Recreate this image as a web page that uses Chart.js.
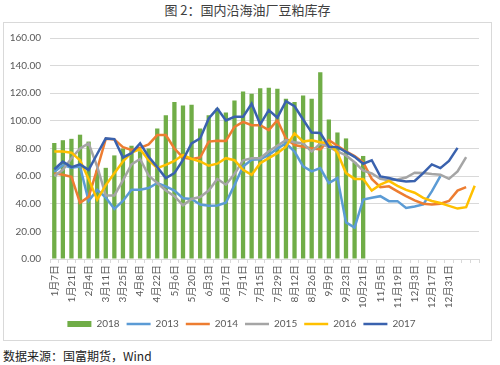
<!DOCTYPE html>
<html>
<head>
<meta charset="utf-8">
<script src="https://cdn.jsdelivr.net/npm/chart.js@4.4.1/dist/chart.umd.min.js"></script>
<style>
    body { margin: 0; width: 500px; height: 365px; background: #fff; position: relative; overflow: hidden; font-family: "Noto Sans CJK SC", sans-serif; }
    .title { position: absolute; top: 2px; left: 0; width: 495px; text-align: center; font-size: 13px; line-height: 16px; color: #404040; }
    .box { position: absolute; left: 3px; top: 22px; width: 487px; height: 317px; border: 1px solid #d9d9d9; }
    .source { position: absolute; left: 3px; top: 348px; font-size: 12px; line-height: 16px; color: #222; }
</style>
</head>
<body>
<div class="title">图&nbsp;2：国内沿海油厂豆粕库存</div>
<div class="box"><canvas id="stockChart" width="487" height="317"></canvas></div>
<div class="source">数据来源：国富期货，Wind</div>
<script>
// weekly categories, only every other one carries a label
var labels = ['1月7日', '', '1月21日', '', '2月4日', '', '3月11日', '', '3月25日', '', '4月8日', '', '4月22日', '', '5月6日', '',
    '5月20日', '', '6月3日', '', '6月17日', '', '7月1日', '', '7月15日', '', '7月29日', '', '8月12日', '', '8月26日', '',
    '9月9日', '', '9月23日', '', '10月21日', '', '11月5日', '', '11月19日', '', '12月3日', '', '12月17日', '', '12月31日', '', '', ''];

var yTicks = [0, 20, 40, 60, 80, 100, 120, 140, 160];

var data2018 = [84, 86, 87, 90, 85, 64, 66, 75, 80, 82, 78, 80, 94.5, 104, 113.6, 111.2, 111.7, 94.5, 104, 109, 106, 114.8,
    121.3, 119.6, 123.7, 123.9, 123.2, 116, 113.6, 118.4, 116, 135.2, 101, 91.6, 87.3, 70, 74.6];
var data2013 = [63, 68, 66, 67, 42, 50, 44.5, 36.2, 42, 50.2, 50.2, 51.4, 55, 52.6, 49.5, 44, 43.5, 39.5, 38.5, 38.8, 40.7,
    53.5, 67, 71.8, 72.2, 75.4, 80, 83.7, 77.8, 67, 63.4, 65.8, 55, 58.6, 26.5, 22.7, 43, 44.3, 45.5, 41.9, 41.9, 37, 38, 39.5, 49, 60];
var data2014 = [62, 61, 59.5, 40.7, 45, 65, 87, 86.6, 81, 79, 80.5, 83, 89.7, 89.7, 80, 73.5, 72.5, 73.5, 85, 85.6, 85.5,
    95.7, 99.3, 96.9, 96.9, 93.3, 100.5, 87.3, 82.5, 81.3, 80.1, 79.4, 86, 82, 78, 74.5, 70, 58, 52, 52.6, 49, 45.5, 42.5,
    40, 39.5, 40, 42, 49.5, 52];
var data2015 = [60, 64.6, 73, 80.1, 83.7, 67, 46, 46, 57, 68.5, 72.4, 60.4, 55, 49.6, 45.5, 38.9, 43.5, 44.9, 49.6, 58, 53.8,
    61.6, 71.5, 73, 73, 78, 82, 86, 84.5, 83.7, 77.8, 83.7, 81, 78, 75, 70, 64, 62, 58, 57, 57.5, 59, 62.5, 62.2, 61.5, 61,
    58, 63.4, 73.7];
var data2016 = [77.8, 77.8, 77, 71.5, 58, 43, 53.5, 62, 70.6, 77, 79.5, 71.5, 65.8, 68.2, 71, 75.4, 72.5, 70.6, 67.5, 69, 73,
    71.5, 64.6, 61, 69.4, 73, 76.6, 81.3, 90.9, 85, 86, 84.5, 84, 77, 62.2, 58, 58, 49.5, 53.8, 56.5, 53, 50, 48, 44.3, 42,
    40.5, 38.5, 36.5, 37.5, 53];
var data2017 = [65, 70.5, 66.5, 68.5, 64.5, 76, 87.3, 86.8, 73.5, 76.6, 83.7, 74, 66.5, 58.6, 62.2, 71.8, 83.7, 87.3, 101.7,
    108.9, 100.3, 102.9, 102.9, 112.4, 97.5, 107.8, 102.3, 114.2, 110.6, 101, 91.5, 91.2, 81.3, 81, 77.5, 74, 69, 71.5,
    59.8, 58.6, 57, 56.2, 56.5, 62.2, 68.5, 65.8, 71, 80.5];

Chart.defaults.font.family = 'Lato, "Noto Sans CJK SC", sans-serif';
Chart.defaults.font.size = 10;
Chart.defaults.color = '#595959';

function lineSet(label, data, color, order) {
    return {
        type: 'line',
        label: label,
        data: data,
        borderColor: color,
        backgroundColor: color,
        borderWidth: 2.5,
        pointRadius: 0,
        pointStyle: 'line',
        tension: 0,
        order: order
    };
}

var ctx = document.getElementById('stockChart').getContext('2d');
var chart = new Chart(ctx, {
    type: 'bar',
    data: {
        labels: labels,
        datasets: [{
                label: '2018',
                data: data2018,
                backgroundColor: '#70AD47',
                pointStyle: 'rect',
                categoryPercentage: 1,
                barPercentage: 0.5,
                order: 10
            },
            lineSet('2013', data2013, '#5B9BD5', 5),
            lineSet('2014', data2014, '#ED7D31', 4),
            lineSet('2015', data2015, '#A5A5A5', 3),
            lineSet('2016', data2016, '#FFC000', 2),
            lineSet('2017', data2017, '#3A62AE', 1)
        ]
    },
    options: {
        responsive: false,
        animation: false,
        layout: {
            autoPadding: false,
            padding: { top: 12, right: 12, bottom: 1, left: 0 }
        },
        plugins: {
            tooltip: { enabled: false },
            legend: {
                position: 'bottom',
                labels: {
                    usePointStyle: true,
                    pointStyleWidth: 24,
                    boxHeight: 6,
                    padding: 7,
                    color: '#595959',
                    font: { size: 10 },
                    sort: function(a, b) { return a.datasetIndex - b.datasetIndex; }
                }
            }
        },
        scales: {
            x: {
                offset: true,
                grid: {
                    display: true,
                    offset: true,
                    drawOnChartArea: false,
                    drawTicks: true,
                    tickLength: 4,
                    color: '#d9d9d9'
                },
                border: { color: '#d9d9d9' },
                ticks: {
                    autoSkip: false,
                    minRotation: 90,
                    maxRotation: 90,
                    padding: 2,
                    font: { size: 10 }
                },
                afterFit: function(scale) { scale.height = 53; }
            },
            y: {
                min: 0,
                max: 160,
                afterBuildTicks: function(scale) {
                    scale.ticks = yTicks.map(function(v) { return { value: v }; });
                },
                grid: { color: '#d9d9d9', drawTicks: false },
                border: { display: false },
                ticks: {
                    padding: 9,
                    font: { size: 10 },
                    callback: function(v) { return Number(v).toFixed(2); }
                },
                afterFit: function(scale) { scale.width = 46; }
            }
        }
    }
});
</script>
</body>
</html>
